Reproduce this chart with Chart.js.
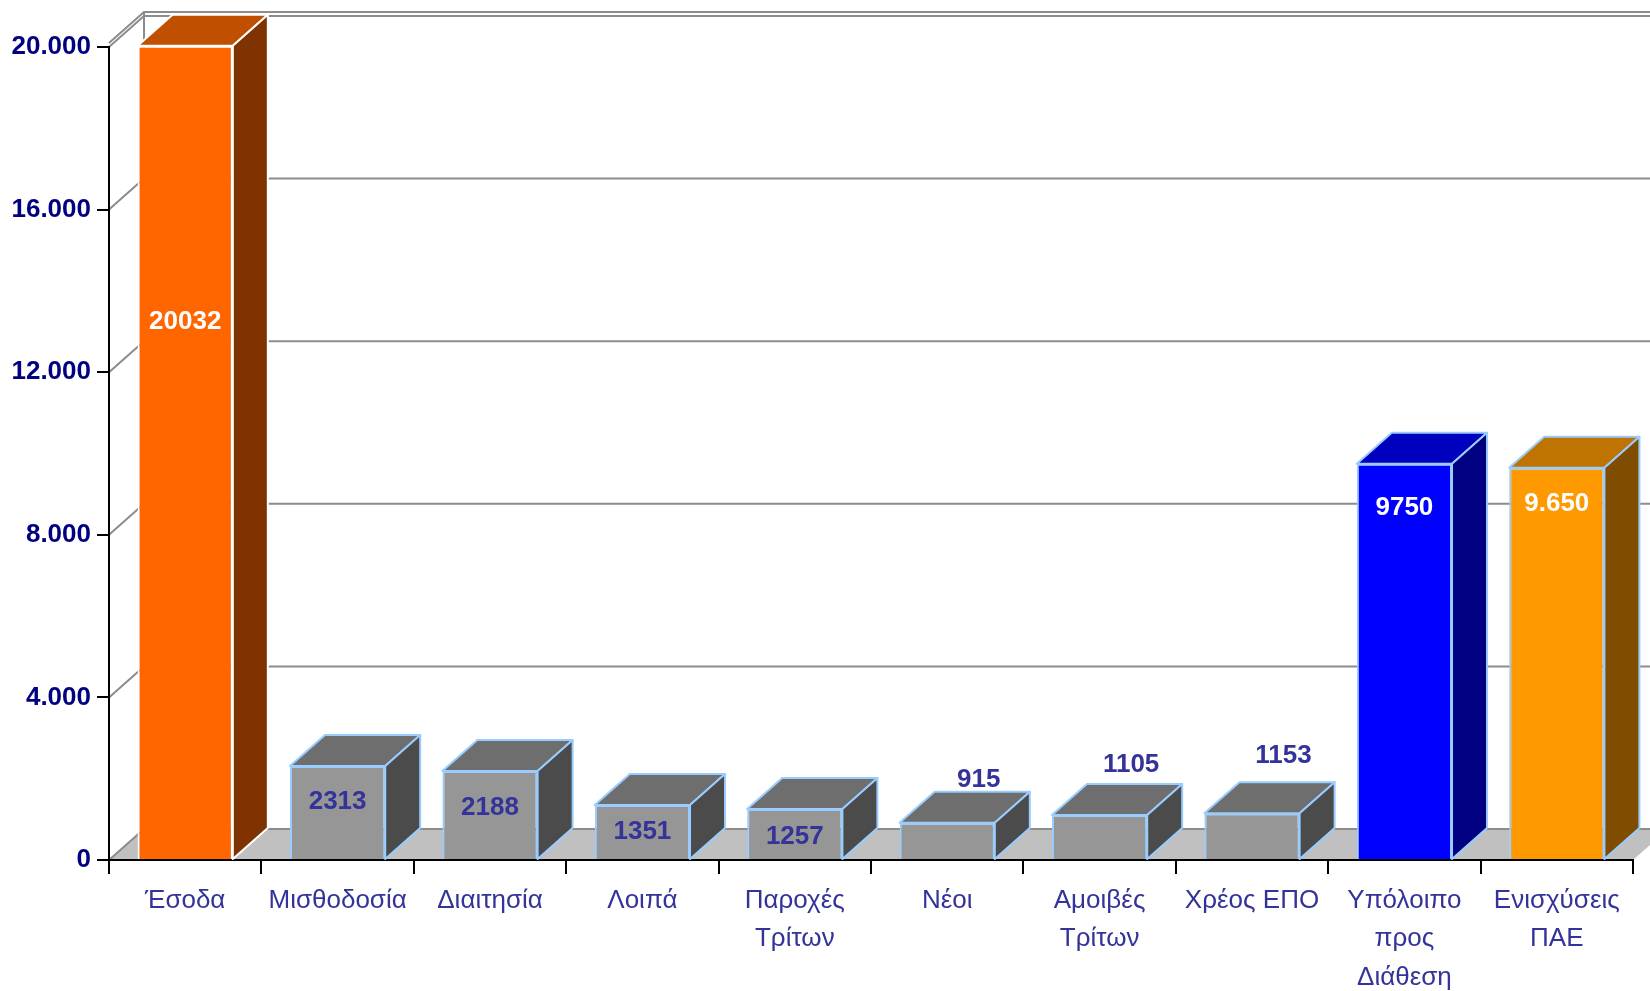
<!DOCTYPE html>
<html>
<head>
<meta charset="utf-8">
<script src="https://cdn.jsdelivr.net/npm/chart.js@4.4.1/dist/chart.umd.min.js"></script>
<style>
  html, body { margin: 0; padding: 0; background: #ffffff; overflow: hidden; }
  #wrap { width: 1650px; height: 991px; position: relative; }
</style>
</head>
<body>
<div id="wrap"><canvas id="c" width="1650" height="991"></canvas></div>
<script>
// ---- data ----
const categories = [
  ['Έσοδα'], ['Μισθοδοσία'], ['Διαιτησία'], ['Λοιπά'], ['Παροχές', 'Τρίτων'],
  ['Νέοι'], ['Αμοιβές', 'Τρίτων'], ['Χρέος ΕΠΟ'], ['Υπόλοιπο', 'προς', 'Διάθεση'], ['Ενισχύσεις', 'ΠΑΕ']
];
const values = [20032, 2313, 2188, 1351, 1257, 915, 1105, 1153, 9750, 9650];
const valueLabels = ['20032', '2313', '2188', '1351', '1257', '915', '1105', '1153', '9750', '9.650'];
const yMin = 0, yMax = 20000, yStep = 4000;

// ---- styles ----
const FONT = "'Liberation Sans', Arial, Helvetica, sans-serif";
const frontColors = ['#FF6600', '#969696', '#969696', '#969696', '#969696', '#969696', '#969696', '#969696', '#0000FF', '#FF9900'];
const topColors   = ['#C04F00', '#6E6E6E', '#6E6E6E', '#6E6E6E', '#6E6E6E', '#6E6E6E', '#6E6E6E', '#6E6E6E', '#0000BF', '#BF7300'];
const sideColors  = ['#7F3300', '#4B4B4B', '#4B4B4B', '#4B4B4B', '#4B4B4B', '#4B4B4B', '#4B4B4B', '#4B4B4B', '#000080', '#7F4C00'];
const edgeColors  = ['#FFFFFF', '#99CCFF', '#99CCFF', '#99CCFF', '#99CCFF', '#99CCFF', '#99CCFF', '#99CCFF', '#99CCFF', '#99CCFF'];
const labelColors = ['#FFFFFF', '#333399', '#333399', '#333399', '#333399', '#333399', '#333399', '#333399', '#FFFFFF', '#FFFFFF'];

function fmt(v) { return String(v).replace(/\B(?=(\d{3})+(?!\d))/g, '.'); }

const DX = 35, DY = -31;

const bar3d = {
  id: 'bar3d',
  beforeDraw(chart, args, opts) {
    const ctx = chart.ctx;
    const ca = chart.chartArea;
    const ys = chart.scales.y;
    const W = chart.width;
    ctx.save();
    // floor
    ctx.fillStyle = '#C0C0C0';
    ctx.beginPath();
    ctx.moveTo(ca.left, ca.bottom);
    ctx.lineTo(ca.right, ca.bottom);
    ctx.lineTo(ca.right + DX, ca.bottom + DY);
    ctx.lineTo(ca.left + DX, ca.bottom + DY);
    ctx.closePath();
    ctx.fill();
    // wall lines
    ctx.strokeStyle = '#8C8C8C';
    ctx.lineWidth = 2;
    for (let v = yMin; v <= yMax; v += yStep) {
      const y = ys.getPixelForValue(v);
      ctx.beginPath();
      ctx.moveTo(ca.left, y);
      ctx.lineTo(ca.left + DX, y + DY);
      ctx.lineTo(W, y + DY);
      ctx.stroke();
    }
    // top double edge
    const yt = ys.getPixelForValue(yMax);
    ctx.beginPath();
    ctx.moveTo(ca.left, yt - 4);
    ctx.lineTo(ca.left + DX, yt + DY - 4);
    ctx.lineTo(W, yt + DY - 4);
    ctx.stroke();
    // back vertical edge
    ctx.beginPath();
    ctx.moveTo(ca.left + DX, yt + DY - 4);
    ctx.lineTo(ca.left + DX, ca.bottom + DY);
    ctx.stroke();
    ctx.restore();
  },
  afterDatasetsDraw(chart, args, opts) {
    const ctx = chart.ctx;
    const meta = chart.getDatasetMeta(0);
    ctx.save();
    ctx.lineJoin = 'round';
    meta.data.forEach((bar, i) => {
      const p = bar.getProps(['x', 'y', 'base', 'width'], true);
      const l = p.x - p.width / 2, r = p.x + p.width / 2, t = p.y, b = p.base;
      ctx.lineWidth = 2;
      ctx.strokeStyle = edgeColors[i];
      // top face
      ctx.fillStyle = topColors[i];
      ctx.beginPath();
      ctx.moveTo(l, t); ctx.lineTo(l + DX, t + DY); ctx.lineTo(r + DX, t + DY); ctx.lineTo(r, t); ctx.closePath();
      ctx.fill(); ctx.stroke();
      // side face
      ctx.fillStyle = sideColors[i];
      ctx.beginPath();
      ctx.moveTo(r, t); ctx.lineTo(r + DX, t + DY); ctx.lineTo(r + DX, b + DY); ctx.lineTo(r, b); ctx.closePath();
      ctx.fill(); ctx.stroke();
    });
    // value labels
    ctx.font = 'bold 26px ' + FONT;
    ctx.textAlign = 'center';
    ctx.textBaseline = 'middle';
    meta.data.forEach((bar, i) => {
      const p = bar.getProps(['x', 'y'], true);
      const off = opts.labelDy[i];
      const x = p.x + (off < 0 ? DX * 0.9 : 0);
      ctx.fillStyle = labelColors[i];
      ctx.fillText(valueLabels[i], x, p.y + off);
    });
    ctx.restore();
  }
};

new Chart(document.getElementById('c'), {
  type: 'bar',
  data: {
    labels: categories,
    datasets: [{
      data: values,
      backgroundColor: frontColors,
      borderColor: edgeColors,
      borderWidth: 2,
      categoryPercentage: 1.0,
      barPercentage: 0.625,
      clip: false
    }]
  },
  options: {
    responsive: false,
    animation: false,
    devicePixelRatio: 1,
    layout: { padding: { left: 0, top: 47, right: 17, bottom: 0 } },
    plugins: {
      legend: { display: false },
      tooltip: { enabled: false },
      bar3d: { labelDy: [276, 36, 37, 27, 28, -43, -50, -57, 44, 36] }
    },
    scales: {
      x: {
        grid: { drawOnChartArea: false, offset: true, color: '#000000', lineWidth: 2, tickLength: 14, tickColor: '#000000' },
        border: { display: true, color: '#000000', width: 2 },
        ticks: {
          color: '#333399',
          font: { family: FONT, size: 26, lineHeight: 1.49 },
          padding: 7,
          maxRotation: 0,
          autoSkip: false
        },
        afterFit(scale) { scale.height = 131; }
      },
      y: {
        min: yMin, max: yMax,
        grid: { drawOnChartArea: false, color: '#000000', lineWidth: 2, tickLength: 12, tickColor: '#000000' },
        border: { display: true, color: '#000000', width: 2 },
        ticks: {
          stepSize: yStep,
          color: '#000080',
          font: { family: FONT, size: 26, weight: 'bold' },
          padding: 6,
          callback: (v) => fmt(v)
        },
        afterFit(scale) { scale.width = 109; }
      }
    }
  },
  plugins: [bar3d]
});
</script>
</body>
</html>
